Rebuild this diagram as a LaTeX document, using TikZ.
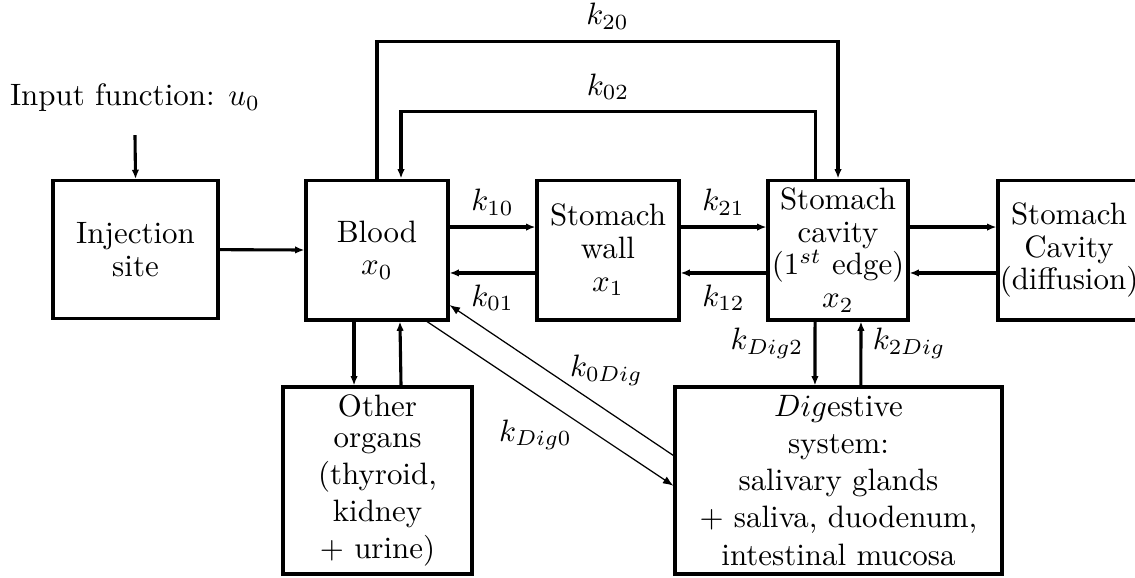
\documentclass[tikz,border=0pt]{standalone}
\usetikzlibrary{arrows.meta}

\tikzset{
    box/.style={draw, line width=1pt, align=center, inner sep=0pt, minimum width=1.614cm, minimum height=1.59cm},
    bigbox/.style={box, minimum height=2.125cm},
    tight/.style={font=\linespread{0.88}\selectfont},
    flow/.style={line width=1pt, -{Latex[length=3pt, width=2.4pt]}},
    thinflow/.style={thin, -{Latex[length=3.4pt, width=2.6pt]}}
}

\begin{document}
\begin{tikzpicture}
    \useasboundingbox (0, 0) rectangle (12.898, 6.557);

    \node[] (inp) at (1.534, 5.443) {Input function: $u_0$};
    \node[box, tight, minimum width=1.875cm, minimum height=1.57cm] (inj) at (1.54, 3.72) {Injection\\site};
    \node[box, tight] (blood) at (4.284, 3.716) {Blood\\$x_0$};
    \node[box, tight] (wall) at (6.909, 3.716) {Stomach\\wall\\$x_1$};
    \node[box, tight, minimum width=1.591cm] (cav) at (9.523, 3.716) {Stomach\\cavity\\(1$^{st}$ edge)\\$x_2$};
    \node[box, tight] (diff) at (12.148, 3.716) {Stomach\\Cavity\\(diffusion)};
    \node[bigbox, minimum width=2.148cm] (other) at (4.29, 1.097) {Other\\[-2pt]organs\\(thyroid,\\kidney\\$+$ urine)};
    \node[bigbox, minimum width=3.716cm] (dig) at (9.528, 1.097) {$Dig$estive\\system:\\salivary glands\\$+$ saliva, duodenum,\\intestinal mucosa};

    \draw[flow] ([yshift=-0.14cm]inp.south) -- (inj.north);
    \draw[flow] (inj.east) -- (blood.west);

    \draw[flow] ([yshift=0.261cm]blood.east) -- node[above]{$k_{10}$} ([yshift=0.261cm]wall.west);
    \draw[flow] ([yshift=-0.261cm]wall.west) -- node[below]{$k_{01}$} ([yshift=-0.261cm]blood.east);
    \draw[flow] ([yshift=0.261cm]wall.east) -- node[above]{$k_{21}$} ([yshift=0.261cm]cav.west);
    \draw[flow] ([yshift=-0.261cm]cav.west) -- node[below]{$k_{12}$} ([yshift=-0.261cm]wall.east);
    \draw[flow] ([yshift=0.261cm]cav.east) -- ([yshift=0.261cm]diff.west);
    \draw[flow] ([yshift=-0.261cm]diff.west) -- ([yshift=-0.261cm]cav.east);

    \draw[flow] (blood.north) -- ++(0, 1.557) -| node[pos=0.25, above]{$k_{20}$} (cav.north);
    \draw[flow] ([xshift=-0.261cm]cav.north) -- ++(0, 0.761) -| node[pos=0.25, above]{$k_{02}$} ([xshift=0.273cm]blood.north);

    \draw[flow] ([xshift=-0.261cm]blood.south) -- ([xshift=-0.267cm]other.north);
    \draw[flow] ([xshift=0.267cm]other.north) -- ([xshift=0.261cm]blood.south);

    \draw[flow] ([xshift=-0.261cm]cav.south) -- node[pos=0.34, left]{$k_{Dig2}$} ([xshift=-0.267cm]dig.north);
    \draw[flow] ([xshift=0.255cm]dig.north) -- node[pos=0.66, right]{$k_{2Dig}$} ([xshift=0.261cm]cav.south);

    \draw[thinflow] ([yshift=0.284cm]dig.west) -- node[pos=0.3, above=0.16cm]{$k_{0Dig}$} ([yshift=-0.625cm]blood.east);
    \draw[thinflow] ([xshift=0.568cm]blood.south) -- node[pos=0.44, below=0.17cm]{$k_{Dig0}$} ([yshift=-0.06cm]dig.west);
\end{tikzpicture}
\end{document}
